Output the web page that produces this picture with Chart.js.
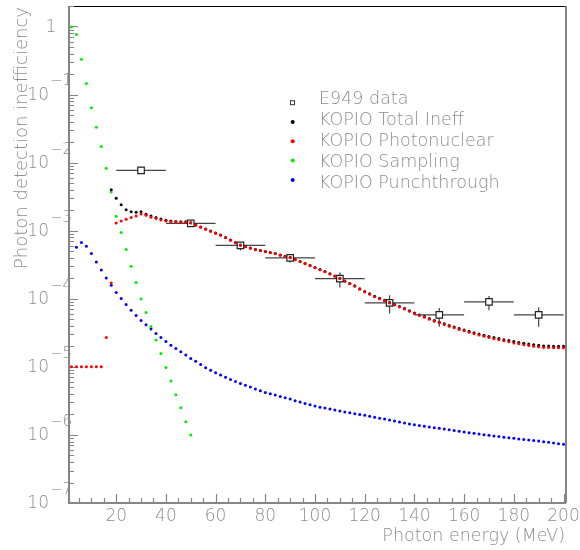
<!DOCTYPE html>
<html>
<head>
<meta charset="utf-8">
<style>
  html, body { margin: 0; padding: 0; background: #fff; }
</style>
<script src="https://cdn.jsdelivr.net/npm/chart.js@4.4.0/dist/chart.umd.min.js"></script>
</head>
<body>
<canvas id="chart" width="580" height="550"></canvas>
<script>
// photon energy grid (MeV) for the KOPIO curves
const energy = [
  2, 4, 6, 8, 10, 12, 14, 16, 18, 20,
  22, 24, 26, 28, 30, 32, 34, 36, 38, 40,
  42, 44, 46, 48, 50, 52, 54, 56, 58, 60,
  62, 64, 66, 68, 70, 72, 74, 76, 78, 80,
  82, 84, 86, 88, 90, 92, 94, 96, 98, 100,
  102, 104, 106, 108, 110, 112, 114, 116, 118, 120,
  122, 124, 126, 128, 130, 132, 134, 136, 138, 140,
  142, 144, 146, 148, 150, 152, 154, 156, 158, 160,
  162, 164, 166, 168, 170, 172, 174, 176, 178, 180,
  182, 184, 186, 188, 190, 192, 194, 196, 198, 200
];

const totalIneff = [
  null, null, null, null, null,
  null, null, null, 4.0e-3, 3.0e-3,
  2.4e-3, 2.04e-3, 1.90e-3, 1.87e-3, 1.90e-3,
  1.74e-3, 1.65e-3, 1.56e-3, 1.48e-3, 1.42e-3,
  1.39e-3, 1.37e-3, 1.35e-3, 1.35e-3, 1.31e-3,
  1.215e-3, 1.135e-3, 1.06e-3, 9.9e-4, 9.25e-4,
  8.64e-4, 7.94e-4, 7.30e-4, 6.70e-4, 6.16e-4,
  5.86e-4, 5.58e-4, 5.30e-4, 5.12e-4, 4.95e-4,
  4.79e-4, 4.63e-4, 4.40e-4, 4.21e-4, 4.04e-4,
  3.78e-4, 3.53e-4, 3.30e-4, 3.09e-4, 2.89e-4,
  2.70e-4, 2.52e-4, 2.33e-4, 2.17e-4, 2.00e-4,
  1.83e-4, 1.68e-4, 1.55e-4, 1.40e-4, 1.28e-4,
  1.19e-4, 1.09e-4, 1.02e-4, 9.5e-5, 8.82e-5,
  8.22e-5, 7.68e-5, 7.19e-5, 6.67e-5, 6.18e-5,
  5.80e-5, 5.47e-5, 5.12e-5, 4.79e-5, 4.53e-5,
  4.29e-5, 4.06e-5, 3.85e-5, 3.65e-5, 3.48e-5,
  3.33e-5, 3.17e-5, 3.04e-5, 2.92e-5, 2.80e-5,
  2.69e-5, 2.60e-5, 2.51e-5, 2.43e-5, 2.35e-5,
  2.28e-5, 2.22e-5, 2.16e-5, 2.11e-5, 2.07e-5,
  2.03e-5, 2.02e-5, 2.01e-5, 2.01e-5, 2.01e-5
];

const photonuclear = [
  1e-5, 1e-5, 1e-5, 1e-5, 1e-5,
  1e-5, 1e-5, 2.7e-5, 1.7e-4, 1.30e-3,
  1.389e-3, 1.472e-3, 1.559e-3, 1.646e-3, 1.761e-3,
  1.685e-3, 1.575e-3, 1.507e-3, 1.437e-3, 1.389e-3,
  1.362e-3, 1.344e-3, 1.330e-3, 1.330e-3, 1.299e-3,
  1.202e-3, 1.123e-3, 1.050e-3, 9.81e-4, 9.17e-4,
  8.57e-4, 7.88e-4, 7.24e-4, 6.65e-4, 6.11e-4,
  5.81e-4, 5.53e-4, 5.25e-4, 5.08e-4, 4.91e-4,
  4.75e-4, 4.59e-4, 4.36e-4, 4.17e-4, 4.01e-4,
  3.75e-4, 3.50e-4, 3.27e-4, 3.06e-4, 2.86e-4,
  2.67e-4, 2.50e-4, 2.31e-4, 2.15e-4, 1.98e-4,
  1.81e-4, 1.66e-4, 1.53e-4, 1.38e-4, 1.26e-4,
  1.17e-4, 1.07e-4, 1.00e-4, 9.37e-5, 8.70e-5,
  8.10e-5, 7.57e-5, 7.08e-5, 6.57e-5, 6.08e-5,
  5.70e-5, 5.37e-5, 5.02e-5, 4.69e-5, 4.43e-5,
  4.19e-5, 3.96e-5, 3.75e-5, 3.55e-5, 3.38e-5,
  3.23e-5, 3.07e-5, 2.94e-5, 2.82e-5, 2.70e-5,
  2.59e-5, 2.50e-5, 2.41e-5, 2.33e-5, 2.25e-5,
  2.18e-5, 2.12e-5, 2.06e-5, 2.01e-5, 1.97e-5,
  1.93e-5, 1.92e-5, 1.91e-5, 1.91e-5, 1.91e-5
];

// sampling only runs 2..50 MeV
const sampling = [
  0.98, 0.76, 0.33, 0.145, 0.064,
  0.033, 0.0173, 0.0083, 0.0037, 0.00163,
  9.4e-4, 5.3e-4, 3.0e-4, 1.73e-4, 9.9e-5,
  6.3e-5, 3.9e-5, 2.47e-5, 1.57e-5, 9.8e-6,
  6.2e-6, 3.9e-6, 2.5e-6, 1.56e-6, 1.0e-6
];

const punchthrough = [
  null, 5.71e-4, 6.70e-4, 5.91e-4, 4.62e-4,
  3.48e-4, 2.65e-4, 2.02e-4, 1.58e-4, 1.24e-4,
  1.01e-4, 8.24e-5, 6.80e-5, 5.68e-5, 4.80e-5,
  4.14e-5, 3.61e-5, 3.09e-5, 2.70e-5, 2.36e-5,
  2.08e-5, 1.86e-5, 1.66e-5, 1.49e-5, 1.33e-5,
  1.21e-5, 1.08e-5, 9.74e-6, 8.95e-6, 8.17e-6,
  7.56e-6, 7.02e-6, 6.54e-6, 6.11e-6, 5.71e-6,
  5.36e-6, 5.04e-6, 4.74e-6, 4.46e-6, 4.21e-6,
  4.02e-6, 3.85e-6, 3.67e-6, 3.51e-6, 3.36e-6,
  3.19e-6, 3.04e-6, 2.89e-6, 2.77e-6, 2.65e-6,
  2.56e-6, 2.48e-6, 2.40e-6, 2.32e-6, 2.24e-6,
  2.17e-6, 2.11e-6, 2.05e-6, 2.00e-6, 1.94e-6,
  1.88e-6, 1.82e-6, 1.76e-6, 1.71e-6, 1.65e-6,
  1.60e-6, 1.55e-6, 1.50e-6, 1.45e-6, 1.41e-6,
  1.38e-6, 1.34e-6, 1.31e-6, 1.28e-6, 1.25e-6,
  1.22e-6, 1.19e-6, 1.16e-6, 1.13e-6, 1.10e-6,
  1.076e-6, 1.054e-6, 1.03e-6, 1.01e-6, 9.85e-7,
  9.65e-7, 9.46e-7, 9.27e-7, 9.08e-7, 8.90e-7,
  8.75e-7, 8.58e-7, 8.43e-7, 8.26e-7, 8.13e-7,
  7.96e-7, 7.78e-7, 7.60e-7, 7.44e-7, 7.27e-7
];

// E949 measurements, 20 MeV bins
const e949Energy = [30, 50, 70, 90, 110, 130, 150, 170, 190];
const e949Ineff  = [7.7e-3, 1.28e-3, 6.1e-4, 4.0e-4, 1.98e-4, 8.7e-5, 5.8e-5, 9.0e-5, 5.8e-5];
const e949Low    = [7.7e-3, 1.28e-3, 5.1e-4, 3.4e-4, 1.47e-4, 6.1e-5, 3.87e-5, 6.8e-5, 3.87e-5];
const e949High   = [7.7e-3, 1.28e-3, 6.8e-4, 4.55e-4, 2.43e-4, 1.13e-4, 7.3e-5, 1.1e-4, 7.5e-5];
const e949HalfBin = 10;

const xTickLabels = [20, 40, 60, 80, 100, 120, 140, 160, 180, 200];
const yExponents = [0, -1, -2, -3, -4, -5, -6, -7];

const legendLabels = ['E949 data', 'KOPIO Total Ineff', 'KOPIO Photonuclear', 'KOPIO Sampling', 'KOPIO Punchthrough'];
const legendColors = ['#fff', '#000', '#ff0000', '#00ee00', '#0000ff'];

const FONT = '"DejaVu Sans", sans-serif';
const TEXT = '#8c8c8c';
const AXIS = '#858585';

function points(values) {
  const out = [];
  values.forEach((v, i) => { if (v !== null) out.push({x: energy[i], y: v}); });
  return out;
}

function dots(label, values, color) {
  return {
    label: label,
    data: points(values),
    backgroundColor: color,
    borderWidth: 0,
    pointRadius: 1.5,
    pointHoverRadius: 1.5
  };
}

const decor = {
  id: 'decor',
  beforeDatasetsDraw(chart) {
    const {ctx, chartArea: a, scales: {x, y}} = chart;
    ctx.save();

    // frame: black top, grey axes
    ctx.strokeStyle = '#000';
    ctx.lineWidth = 1;
    ctx.beginPath();
    ctx.moveTo(a.left, a.top + 0.5);
    ctx.lineTo(a.right, a.top + 0.5);
    ctx.stroke();
    ctx.strokeStyle = AXIS;
    ctx.lineWidth = 2;
    ctx.beginPath();
    ctx.moveTo(a.right, a.top);
    ctx.lineTo(a.right, a.bottom);
    ctx.moveTo(a.left, a.top);
    ctx.lineTo(a.left, a.bottom);
    ctx.lineTo(a.right, a.bottom);
    ctx.stroke();

    // x ticks every 5 MeV, long ones every 20
    ctx.lineWidth = 1.2;
    ctx.beginPath();
    for (let v = 5; v <= 200; v += 5) {
      const px = Math.round(x.getPixelForValue(v)) + 0.5;
      const len = v % 20 === 0 ? 9 : 5;
      ctx.moveTo(px, a.bottom);
      ctx.lineTo(px, a.bottom - len);
    }
    // y ticks, decades long
    for (let d = -7; d <= 0; d++) {
      for (let m = 1; m <= 9; m++) {
        const v = m * Math.pow(10, d);
        if (v > 2.001) break;
        const py = Math.round(y.getPixelForValue(v)) + 0.5;
        ctx.moveTo(a.left, py);
        ctx.lineTo(a.left + (m === 1 ? 9 : 5), py);
      }
    }
    ctx.stroke();

    // E949 bin widths and errors
    ctx.strokeStyle = '#444';
    ctx.lineWidth = 1.2;
    e949Energy.forEach((e, i) => {
      const px = x.getPixelForValue(e);
      const py = y.getPixelForValue(e949Ineff[i]);
      ctx.beginPath();
      ctx.moveTo(x.getPixelForValue(e - e949HalfBin), py);
      ctx.lineTo(x.getPixelForValue(e + e949HalfBin), py);
      ctx.moveTo(px, y.getPixelForValue(e949Low[i]));
      ctx.lineTo(px, y.getPixelForValue(e949High[i]));
      ctx.stroke();
    });
    ctx.restore();
  },
  afterDraw(chart) {
    const {ctx, scales: {x, y}} = chart;
    ctx.save();

    // tick labels
    ctx.fillStyle = TEXT;
    ctx.font = '200 17px ' + FONT;
    ctx.textAlign = 'center';
    ctx.textBaseline = 'middle';
    xTickLabels.forEach(v => ctx.fillText(String(v), x.getPixelForValue(v), 517));

    yExponents.forEach(d => {
      const py = y.getPixelForValue(Math.pow(10, d));
      if (d === 0) {
        ctx.font = '200 17px ' + FONT;
        ctx.textAlign = 'center';
        ctx.fillText('1', 51, py + 1);
        return;
      }
      ctx.font = '200 17px ' + FONT;
      ctx.textAlign = 'right';
      ctx.fillText('10', 49, py + 1);
      ctx.font = '200 15px ' + FONT;
      ctx.textAlign = 'left';
      ctx.fillText('\u2212' + (-d), 50, py - 13);
    });

    // axis titles
    ctx.font = '200 17.5px ' + FONT;
    ctx.textAlign = 'right';
    ctx.textBaseline = 'alphabetic';
    ctx.fillText('Photon energy (MeV)', 565, 541);

    ctx.save();
    ctx.translate(27, 7);
    ctx.rotate(-Math.PI / 2);
    ctx.font = '200 18px ' + FONT;
    ctx.textAlign = 'right';
    ctx.fillText('Photon detection inefficiency', 0, 0);
    ctx.restore();

    // legend
    legendLabels.forEach((label, i) => {
      const my = 102.7 + 19.3 * i;
      if (i === 0) {
        ctx.fillStyle = '#fff';
        ctx.fillRect(290.5, my - 2, 4, 4);
        ctx.strokeStyle = '#333';
        ctx.lineWidth = 1;
        ctx.strokeRect(290.5, my - 2, 4, 4);
      } else {
        ctx.fillStyle = legendColors[i];
        ctx.beginPath();
        ctx.arc(292.7, my, 2, 0, Math.PI * 2);
        ctx.fill();
      }
      ctx.fillStyle = TEXT;
      ctx.font = '200 17.5px ' + FONT;
      ctx.textAlign = 'left';
      ctx.textBaseline = 'alphabetic';
      ctx.fillText(label, 319, 97.8 + 20.85 * i + 6.4);
    });

    ctx.restore();
  }
};

const ctx = document.getElementById('chart').getContext('2d');
new Chart(ctx, {
  type: 'scatter',
  data: {
    datasets: [
      dots('KOPIO Photonuclear', photonuclear, '#ff0000'),
      dots('KOPIO Total Ineff', totalIneff, '#000000'),
      dots('KOPIO Sampling', sampling, '#00ee00'),
      dots('KOPIO Punchthrough', punchthrough, '#0000ff'),
      {
        label: 'E949 data',
        data: e949Energy.map((e, i) => ({x: e, y: e949Ineff[i]})),
        pointStyle: 'rect',
        pointRadius: 4.6,
        pointHoverRadius: 4.6,
        backgroundColor: '#fff',
        borderColor: '#222',
        borderWidth: 1.2
      }
    ]
  },
  options: {
    responsive: false,
    animation: false,
    events: [],
    layout: { padding: { top: 6, right: 14, left: 0, bottom: 0 } },
    plugins: { legend: { display: false }, tooltip: { enabled: false } },
    scales: {
      x: {
        type: 'linear',
        min: 1,
        max: 201,
        ticks: { display: false },
        grid: { display: false, drawTicks: false },
        border: { display: false },
        afterFit(s) { s.height = 47; }
      },
      y: {
        type: 'logarithmic',
        min: 1e-7,
        max: 2,
        ticks: { display: false },
        grid: { display: false, drawTicks: false },
        border: { display: false },
        afterFit(s) { s.width = 69; }
      }
    }
  },
  plugins: [decor]
});
</script>
</body>
</html>
